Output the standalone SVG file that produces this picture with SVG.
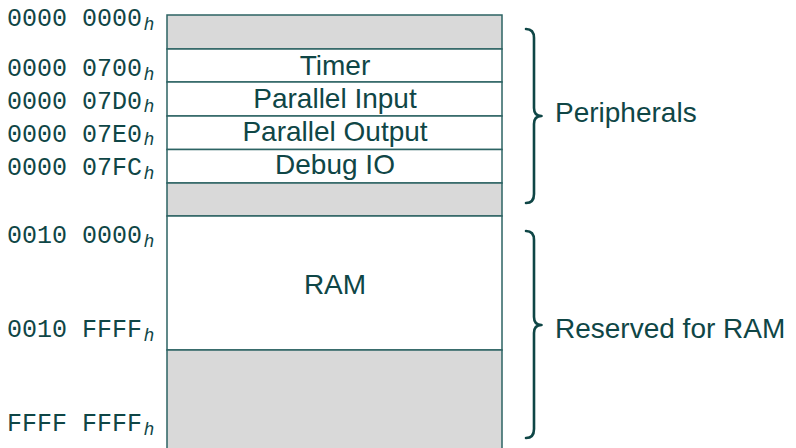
<svg xmlns="http://www.w3.org/2000/svg" width="796" height="448" viewBox="0 0 796 448">
  <style>
    .addr { font-family: "Liberation Mono", "DejaVu Sans Mono", monospace; font-size: 25px; fill: #0f4646; }
    .sub { font-family: "Liberation Sans", Arial, sans-serif; font-style: italic; font-size: 18px; fill: #0f4646; }
    .lbl { font-family: "Liberation Sans", Arial, sans-serif; font-size: 28px; fill: #0f4646; }
    .cell { stroke: #2c6363; stroke-width: 1.5; }
    .free { fill: #d9d9d9; }
    .used { fill: #ffffff; }
    .brace { fill: none; stroke: #0f4646; stroke-width: 2.6; stroke-linecap: round; stroke-linejoin: round; }
  </style>

  <!-- memory map cells -->
  <g id="gap-low"><rect class="cell free" x="167" y="15" width="335" height="34"/></g>
  <g id="timer"><rect class="cell used" x="167" y="49" width="335" height="33"/>
    <text class="lbl" x="335" y="75" text-anchor="middle">Timer</text></g>
  <g id="parallel-input"><rect class="cell used" x="167" y="82" width="335" height="34"/>
    <text class="lbl" x="335" y="108" text-anchor="middle">Parallel Input</text></g>
  <g id="parallel-output"><rect class="cell used" x="167" y="116" width="335" height="33.5"/>
    <text class="lbl" x="335" y="141" text-anchor="middle">Parallel Output</text></g>
  <g id="debug-io"><rect class="cell used" x="167" y="149.5" width="335" height="33.5"/>
    <text class="lbl" x="335" y="174" text-anchor="middle">Debug IO</text></g>
  <g id="gap-mid"><rect class="cell free" x="167" y="183" width="335" height="33"/></g>
  <g id="ram"><rect class="cell used" x="167" y="216" width="335" height="134"/>
    <text class="lbl" x="335" y="294" text-anchor="middle">RAM</text></g>
  <g id="gap-high"><rect class="cell free" x="167" y="350" width="335" height="110"/></g>

  <!-- addresses -->
  <g id="addresses">
    <text class="addr" x="7" y="26">0000 0000<tspan class="sub" dx="2" dy="3.5">h</tspan></text>
    <text class="addr" x="7" y="76">0000 0700<tspan class="sub" dx="2" dy="3.5">h</tspan></text>
    <text class="addr" x="7" y="108.5">0000 07D0<tspan class="sub" dx="2" dy="3.5">h</tspan></text>
    <text class="addr" x="7" y="141.5">0000 07E0<tspan class="sub" dx="2" dy="3.5">h</tspan></text>
    <text class="addr" x="7" y="175">0000 07FC<tspan class="sub" dx="2" dy="3.5">h</tspan></text>
    <text class="addr" x="7" y="243">0010 0000<tspan class="sub" dx="2" dy="3.5">h</tspan></text>
    <text class="addr" x="7" y="337">0010 FFFF<tspan class="sub" dx="2" dy="3.5">h</tspan></text>
    <text class="addr" x="7" y="431">FFFF FFFF<tspan class="sub" dx="2" dy="3.5">h</tspan></text>
  </g>

  <!-- region braces -->
  <g id="connectors">
    <path class="brace" d="M526 29 Q534 29 534 38 L534 108 Q534 116 541.5 116 Q534 116 534 124 L534 194 Q534 203 526 203"/>
    <path class="brace" d="M526 231 Q534 231 534 240 L534 317 Q534 325 541.5 325 Q534 325 534 333 L534 429 Q534 438 526 438"/>
  </g>

  <g id="peripherals"><text class="lbl" x="555" y="121.5">Peripherals</text></g>
  <g id="reserved-ram"><text class="lbl" x="555" y="338">Reserved for RAM</text></g>
</svg>
